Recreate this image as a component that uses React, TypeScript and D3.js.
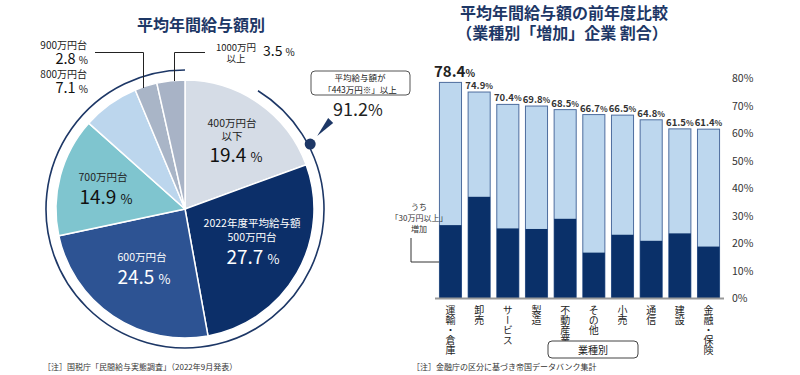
import React from "react";
import * as d3 from "d3";

// ---------- Pie data ----------
const pieLabels = ["400万円台以下", "500万円台", "600万円台", "700万円台", "800万円台", "900万円台", "1000万円以上"];
const pieValues = [19.4, 27.7, 24.5, 14.9, 7.1, 2.8, 3.5];
const pieColors = ["#d5dce6", "#0c2f69", "#2d5393", "#7fc5cf", "#bcd6ed", "#a9b5c7", "#a8b3c6"];
const aboveShare = 91.2;

// ---------- Bar data ----------
const categories = ["運輸・倉庫", "卸売", "サービス", "製造", "不動産業", "その他", "小売", "通信", "建設", "金融・保険"];
const totalIncrease = [78.4, 74.9, 70.4, 69.8, 68.5, 66.7, 66.5, 64.8, 61.5, 61.4];
const over30Increase = [26.5, 36.8, 25.3, 25.1, 28.8, 16.5, 23.0, 20.8, 23.5, 18.7];
const yTicks = [0, 10, 20, 30, 40, 50, 60, 70, 80];

const FONT = "'Noto Sans CJK JP', 'Noto Sans', sans-serif";
const NAVY = "#1d3766";

export default function App() {
  // pie geometry
  const cx = 185, cy = 209, R = 129, ringR = 139;
  const pie = d3.pie<number>().sort(null).value((d) => d)(pieValues);
  const arc = d3.arc<d3.PieArcDatum<number>>().innerRadius(0).outerRadius(R);

  const ringStart = ((100 - aboveShare) / 100) * 2 * Math.PI;
  const ring = d3.path();
  ring.arc(cx, cy, ringR, ringStart - Math.PI / 2, 2 * Math.PI - Math.PI / 2);
  const dotAngle = (62.6 / 180) * Math.PI;
  const dotX = cx + Math.sin(dotAngle) * 141;
  const dotY = cy - Math.cos(dotAngle) * 141;

  // bars
  const x = d3.scaleBand<string>().domain(categories).range([436, 723]).paddingInner(0.23).paddingOuter(0.12);
  const y = d3.scaleLinear().domain([0, 80]).range([298, 78]);
  const bw = x.bandwidth();

  return (
    <svg width={800} height={375} style={{ display: "block", position: "absolute", left: 0, top: 0 }} fontFamily={FONT}>
      <rect width={800} height={375} fill="#fff" />

      {/* ---------- LEFT: pie ---------- */}
      <text x={201} y={31} textAnchor="middle" fontSize={16} fontWeight={700} fill={NAVY}>平均年間給与額別</text>

      <path d={ring.toString()} fill="none" stroke={NAVY} strokeWidth={1.6} />
      <g transform={`translate(${cx},${cy})`}>
        {pie.map((p, i) => (
          <path key={i} d={arc(p) || ""} fill={pieColors[i]} stroke="#fff" strokeWidth={1.5} />
        ))}
      </g>
      <circle cx={dotX} cy={dotY} r={5.5} fill={NAVY} />
      <polygon points={`${dotX + 7},${dotY - 8} ${dotX + 18},${dotY - 26} ${dotX + 23},${dotY - 21}`} fill={NAVY} />

      {/* callout */}
      <rect x={311} y={71} width={99} height={24} rx={4} fill="#fff" stroke="#555" strokeWidth={1} />
      <text x={360} y={81} textAnchor="middle" fontSize={8.5} fill="#222">平均給与額が</text>
      <text x={360} y={92.5} textAnchor="middle" fontSize={8.5} fill="#222">「443万円※」以上</text>
      <text x={333} y={116} fontSize={18} fill="#222">91.2<tspan fontSize={16}>%</tspan></text>

      {/* in-slice labels */}
      <text x={232} y={127} textAnchor="middle" fontSize={10.5} fill="#222">400万円台</text>
      <text x={232} y={139.5} textAnchor="middle" fontSize={10.5} fill="#222">以下</text>
      <text x={236} y={162} textAnchor="middle" fontSize={19} fill="#111">19.4 <tspan fontSize={13}>%</tspan></text>

      <text x={252} y={227} textAnchor="middle" fontSize={10.5} fill="#fff">2022年度平均給与額</text>
      <text x={252} y={241} textAnchor="middle" fontSize={10.5} fill="#fff">500万円台</text>
      <text x={253} y={264} textAnchor="middle" fontSize={19} fill="#fff">27.7 <tspan fontSize={13}>%</tspan></text>

      <text x={142} y={261} textAnchor="middle" fontSize={10.5} fill="#fff">600万円台</text>
      <text x={144} y={284} textAnchor="middle" fontSize={19} fill="#fff">24.5 <tspan fontSize={13}>%</tspan></text>

      <text x={103} y={181} textAnchor="middle" fontSize={10.5} fill="#222">700万円台</text>
      <text x={106} y={204} textAnchor="middle" fontSize={19} fill="#111">14.9 <tspan fontSize={13}>%</tspan></text>

      {/* outside labels */}
      <text x={87} y={49} textAnchor="end" fontSize={10} fill="#222">900万円台</text>
      <text x={88} y={64} textAnchor="end" fontSize={14.5} fill="#111">2.8 <tspan fontSize={10}>%</tspan></text>
      <text x={87} y={78} textAnchor="end" fontSize={10} fill="#222">800万円台</text>
      <text x={88} y={93} textAnchor="end" fontSize={14.5} fill="#111">7.1 <tspan fontSize={10}>%</tspan></text>
      <polyline points="95,52.5 143.5,52.5 143.5,88" fill="none" stroke="#222" strokeWidth={1} />
      <polyline points="205,52.5 174.5,52.5 174.5,81" fill="none" stroke="#222" strokeWidth={1} />
      <text x={236} y={51} textAnchor="middle" fontSize={9.5} fill="#222">1000万円</text>
      <text x={236} y={61.5} textAnchor="middle" fontSize={9.5} fill="#222">以上</text>
      <text x={263} y={56} fontSize={14} fill="#111">3.5 <tspan fontSize={10}>%</tspan></text>

      <text x={43} y={370} fontSize={8} fill="#333">［注］国税庁「民間給与実態調査」（2022年9月発表）</text>

      {/* ---------- RIGHT: bars ---------- */}
      <text x={564} y={19} textAnchor="middle" fontSize={16} fontWeight={700} fill={NAVY}>平均年間給与額の前年度比較</text>
      <text x={562} y={39} textAnchor="middle" fontSize={16} fontWeight={700} fill={NAVY}>（業種別「増加」企業 割合）</text>

      {yTicks.map((t) => (
        <text key={t} x={732} y={y(t) + 4} fontSize={10.5} fill="#333">{t}%</text>
      ))}

      {categories.map((c, i) => {
        const bx = x(c)!;
        return (
          <g key={c}>
            <rect x={bx} y={y(totalIncrease[i])} width={bw} height={y(0) - y(totalIncrease[i])} fill="#bdd7ee" stroke="#4e6d9e" strokeWidth={1} />
            <rect x={bx} y={y(over30Increase[i])} width={bw} height={y(0) - y(over30Increase[i])} fill="#0a3069" />
            {i === 0 ? (
              <text x={bx + bw / 2 + 4} y={y(totalIncrease[i]) - 5} textAnchor="middle" fontSize={15} fontWeight={700} fill="#222">
                {totalIncrease[i].toFixed(1)}<tspan fontSize={10}>%</tspan>
              </text>
            ) : (
              <text x={bx + bw / 2} y={y(totalIncrease[i]) - 3} textAnchor="middle" fontSize={9.5} fontWeight={600} fill="#333">
                {totalIncrease[i].toFixed(1)}<tspan fontSize={8}>%</tspan>
              </text>
            )}
            <text x={bx + bw / 2} y={305} fontSize={10} fill="#222" style={{ writingMode: "vertical-rl" }}>{c}</text>
          </g>
        );
      })}
      <line x1={435} x2={724} y1={298.5} y2={298.5} stroke="#999" strokeWidth={2} />

      {/* annotation */}
      <text x={419} y={210} textAnchor="middle" fontSize={8} fill="#333">うち</text>
      <text x={419} y={221} textAnchor="middle" fontSize={8} fill="#333">「30万円以上」</text>
      <text x={419} y={232} textAnchor="middle" fontSize={8} fill="#333">増加</text>
      <polyline points="411,238 411,262 439,262" fill="none" stroke="#333" strokeWidth={1} />

      <rect x={548} y={341} width={90} height={17} rx={4} fill="#fff" stroke="#444" strokeWidth={1} />
      <text x={593} y={353.5} textAnchor="middle" fontSize={10} fill="#222">業種別</text>

      <text x={412} y={370} fontSize={8} fill="#333">［注］金融庁の区分に基づき帝国データバンク集計</text>
    </svg>
  );
}
